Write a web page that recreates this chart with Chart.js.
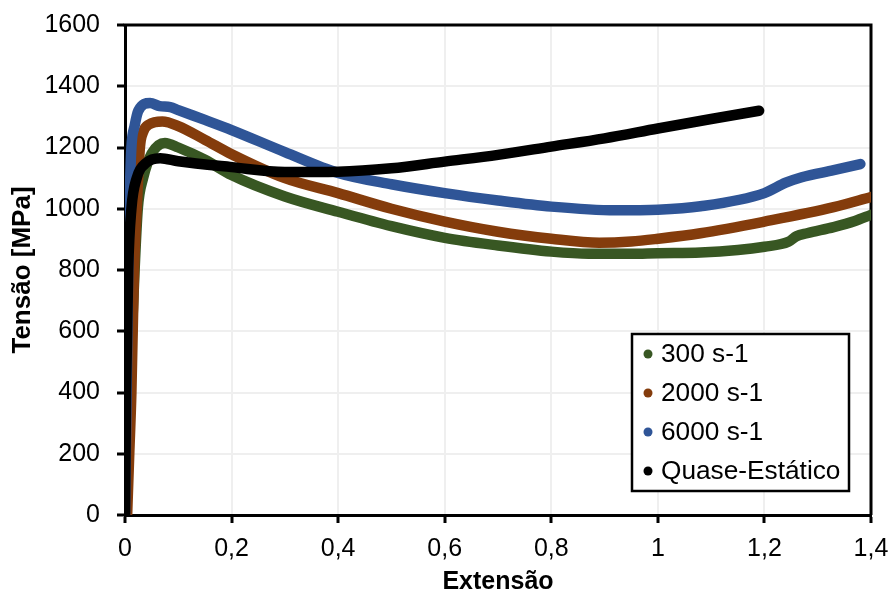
<!DOCTYPE html>
<html>
<head>
<meta charset="utf-8">
<script src="https://cdn.jsdelivr.net/npm/chart.js@4"></script>
<style>
  html, body { margin: 0; padding: 0; background: #fff; }
  #wrap { width: 893px; height: 593px; }
</style>
</head>
<body>
<div id="wrap"><canvas id="curves"></canvas></div>
<script>
// * Ensaio de tracção: tensão vs extensão
const xTicks = [0, 0.2, 0.4, 0.6, 0.8, 1, 1.2, 1.4];
const yTicks = [0, 200, 400, 600, 800, 1000, 1200, 1400, 1600];

const labels = ["300 s-1", "2000 s-1", "6000 s-1", "Quase-Estático"];
const colors = ["#385723", "#843c0c", "#2f5597", "#000000"];

const ext300 = [0, 0.006, 0.012, 0.018, 0.024, 0.034, 0.05, 0.075, 0.1, 0.15, 0.2, 0.3, 0.4, 0.5, 0.6, 0.7, 0.8, 0.87, 0.95, 1.0, 1.08, 1.15, 1.2, 1.245, 1.26, 1.28, 1.33, 1.37, 1.4];
const ten300 = [0, 300, 550, 800, 1000, 1100, 1180, 1215, 1200, 1160, 1110, 1040, 990, 943, 905, 880, 860, 853, 853, 855, 857, 865, 876, 892, 910, 920, 940, 960, 980];

const ext2000 = [0.004, 0.008, 0.012, 0.017, 0.022, 0.028, 0.034, 0.045, 0.07, 0.1, 0.15, 0.2, 0.3, 0.4, 0.5, 0.6, 0.7, 0.8, 0.89, 0.95, 1.0, 1.08, 1.2, 1.33, 1.4];
const ten2000 = [0, 200, 400, 800, 1000, 1200, 1250, 1275, 1285, 1270, 1225, 1178, 1100, 1051, 1000, 958, 925, 902, 889, 893, 902, 920, 958, 1005, 1038];

const ext6000 = [0, 0.003, 0.006, 0.009, 0.012, 0.018, 0.025, 0.047, 0.065, 0.085, 0.1, 0.15, 0.2, 0.3, 0.4, 0.5, 0.6, 0.7, 0.8, 0.92, 1.0, 1.08, 1.2, 1.24, 1.27, 1.33, 1.38];
const ten6000 = [0, 400, 800, 1050, 1200, 1270, 1320, 1345, 1335, 1332, 1322, 1290, 1257, 1185, 1117, 1080, 1051, 1027, 1007, 995, 997, 1008, 1051, 1085, 1103, 1126, 1146];

const extQE = [0, 0.002, 0.006, 0.012, 0.022, 0.04, 0.066, 0.1, 0.2, 0.3, 0.4, 0.5, 0.6, 0.7, 0.8, 0.9, 1.0, 1.1, 1.19];
const tenQE = [0, 400, 800, 1000, 1100, 1150, 1165, 1155, 1136, 1120, 1121, 1132, 1154, 1176, 1203, 1230, 1262, 1293, 1320];

const series = [[ext300, ten300], [ext2000, ten2000], [ext6000, ten6000], [extQE, tenQE]];

const FONT = "'Liberation Sans', Arial, sans-serif";

const toPoints = (xs, ys) => xs.map((x, i) => ({ x: x, y: ys[i] }));

const datasets = series.map((s, i) => ({
  label: labels[i],
  data: toPoints(s[0], s[1]),
  borderColor: colors[i],
  backgroundColor: colors[i],
  borderWidth: 10.5,
  borderCapStyle: "round",
  borderJoinStyle: "round",
  cubicInterpolationMode: "monotone",
  pointRadius: 0,
  fill: false,
  order: 3 - i, // black ends up on top
}));

// top and right edges of the plot frame
const frame = {
  id: "frame",
  beforeDatasetsDraw(chart) {
    const { ctx, chartArea: a } = chart;
    ctx.save();
    ctx.strokeStyle = "#000";
    ctx.lineWidth = 3;
    ctx.beginPath();
    ctx.moveTo(a.left - 1.5, a.top);
    ctx.lineTo(a.right, a.top);
    ctx.lineTo(a.right, a.bottom);
    ctx.stroke();
    ctx.restore();
  },
};

// boxed legend in the lower right of the plot
const boxLegend = {
  id: "boxLegend",
  afterDraw(chart) {
    const { ctx, chartArea: a } = chart;
    const w = 217, h = 157;
    const x0 = a.right - 22 - w;
    const y0 = a.bottom - 24 - h;
    ctx.save();
    ctx.fillStyle = "#fff";
    ctx.fillRect(x0, y0, w, h);
    ctx.strokeStyle = "#000";
    ctx.lineWidth = 2.5;
    ctx.strokeRect(x0, y0, w, h);
    ctx.font = "25px " + FONT;
    ctx.textBaseline = "middle";
    chart.data.datasets.forEach((ds, i) => {
      const cy = y0 + 20 + i * 39;
      ctx.fillStyle = ds.borderColor;
      ctx.beginPath();
      ctx.arc(x0 + 16, cy, 4.5, 0, Math.PI * 2);
      ctx.fill();
      ctx.fillStyle = "#000";
      ctx.save();
      ctx.translate(x0 + 29, cy + 1);
      ctx.scale(1.05, 1);
      ctx.fillText(ds.label, 0, 0);
      ctx.restore();
    });
    ctx.restore();
  },
};

const commaNum = (v) => String(Math.round(v * 10) / 10).replace(".", ",");

var ctx = document.getElementById("curves").getContext("2d");

var curveChart = new Chart(ctx, {
  type: "line",
  data: { datasets: datasets },
  options: {
    responsive: true,
    maintainAspectRatio: false,
    animation: false,
    layout: { padding: { top: 25, right: 22, bottom: 0, left: 0 } },
    plugins: {
      legend: { display: false },
      tooltip: { enabled: false },
    },
    scales: {
      x: {
        type: "linear",
        min: 0,
        max: 1.4,
        afterBuildTicks: (scale) => {
          scale.ticks = xTicks.map((v) => ({ value: v }));
        },
        afterFit: (scale) => {
          scale.height = 78;
          scale.paddingLeft = 0;
          scale.paddingRight = 0;
        },
        ticks: {
          color: "#000",
          font: { size: 25, family: FONT },
          padding: 11,
          maxRotation: 0,
          callback: (v) => commaNum(v),
        },
        grid: {
          color: "#efefef",
          lineWidth: 2,
          tickColor: "#000",
          tickWidth: 3,
          tickLength: 8,
        },
        border: { color: "#000", width: 3 },
        title: {
          display: true,
          text: "Extensão",
          color: "#000",
          font: { size: 25, weight: "bold", family: FONT, lineHeight: 1 },
          padding: { top: 0, bottom: -2 },
        },
      },
      y: {
        type: "linear",
        min: 0,
        max: 1600,
        afterBuildTicks: (scale) => {
          scale.ticks = yTicks.map((v) => ({ value: v }));
        },
        afterFit: (scale) => {
          scale.width = 125;
          scale.paddingTop = 0;
          scale.paddingBottom = 0;
        },
        ticks: {
          color: "#000",
          font: { size: 25, family: FONT },
          padding: 17,
          callback: (v) => String(v),
        },
        grid: {
          color: "#efefef",
          lineWidth: 2,
          tickColor: "#000",
          tickWidth: 3,
          tickLength: 8,
        },
        border: { color: "#000", width: 3 },
        title: {
          display: true,
          text: "Tensão [MPa]",
          color: "#000",
          font: { size: 26, weight: "bold", family: FONT },
          padding: { top: 7, bottom: 0 },
        },
      },
    },
  },
  plugins: [frame, boxLegend],
});
</script>
</body>
</html>
